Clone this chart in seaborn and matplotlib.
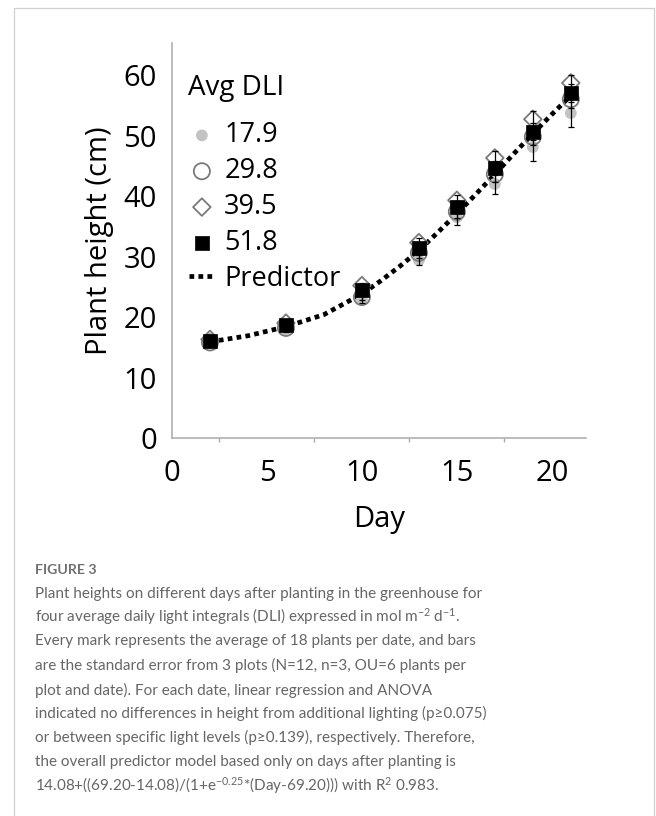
import numpy as np
import pandas as pd
import matplotlib
matplotlib.use("Agg")
import matplotlib.pyplot as plt
import seaborn as sns
from matplotlib.lines import Line2D
from matplotlib.ticker import MultipleLocator, FixedLocator

# ---------------- data ----------------
days = [2, 6, 10, 13, 15, 17, 19, 21]
dli_levels = ["17.9", "29.8", "39.5", "51.8"]
height_179 = [15.7, 18.0, 22.9, 29.4, 36.5, 42.0, 48.1, 53.7]
height_298 = [15.8, 18.2, 23.3, 30.6, 37.4, 43.6, 49.8, 56.0]
height_395 = [16.3, 19.0, 25.2, 32.3, 39.3, 46.3, 52.7, 58.7]
height_518 = [16.0, 18.6, 24.4, 31.4, 38.2, 44.6, 50.6, 57.0]
se_179 = [0.3, 0.4, 0.5, 0.8, 1.3, 1.7, 2.3, 2.3]
se_298 = [0.3, 0.4, 0.5, 0.8, 1.0, 1.2, 1.4, 1.5]
se_395 = [0.3, 0.4, 0.5, 0.7, 0.9, 1.1, 1.3, 1.3]
se_518 = [0.3, 0.4, 0.5, 0.8, 1.0, 1.2, 1.4, 1.5]
pred_days = [2, 4, 6, 8, 10, 11, 12, 13, 14, 15, 16, 17, 18, 19, 20, 21]
pred_height = [15.9, 16.9, 18.4, 20.4, 23.8, 26.0, 28.4, 31.0, 34.0, 37.1,
               40.3, 43.6, 47.0, 50.3, 53.5, 56.6]
x_ticks = [0, 5, 10, 15, 20]
y_ticks = [0, 10, 20, 30, 40, 50, 60]
x_label = "Day"
y_label = "Plant height (cm)"
legend_title = "Avg DLI"
pred_label = "Predictor"
fig_label = "FIGURE 3"
caption_lines = [
    "Plant heights on different days after planting in the greenhouse for",
    r"four average daily light integrals (DLI) expressed in mol m$\mathregular{^{-2}}$ d$\mathregular{^{-1}}$.",
    "Every mark represents the average of 18 plants per date, and bars",
    "are the standard error from 3 plots (N=12, n=3, OU=6 plants per",
    "plot and date). For each date, linear regression and ANOVA",
    "indicated no differences in height from additional lighting (p\u22650.075)",
    "or between specific light levels (p\u22650.139), respectively. Therefore,",
    "the overall predictor model based only on days after planting is",
    r"14.08+((69.20-14.08)/(1+e$\mathregular{^{-0.25}}$*(Day-69.20))) with R$\mathregular{^{2}}$ 0.983.",
]

series = [
    (dli_levels[0], height_179, se_179),
    (dli_levels[1], height_298, se_298),
    (dli_levels[2], height_395, se_395),
    (dli_levels[3], height_518, se_518),
]
frames = [pd.DataFrame({"Day": days, "Height": h, "SE": s, "DLI": lab}) for lab, h, s in series]
df = pd.concat(frames, ignore_index=True)
pred_df = pd.DataFrame({"Day": pred_days, "Height": pred_height})

# ---------------- styling ----------------
sns.set_theme(style="white")
plt.rcParams["font.family"] = ["Open Sans", "DejaVu Sans"]
plt.rcParams["axes.unicode_minus"] = True

W, H = 656, 816
fig = plt.figure(figsize=(W / 100, H / 100), dpi=100)
fig.patch.set_facecolor("white")

ax_l, ax_r, ax_t, ax_b = 172, 586, 43, 438
ax = fig.add_axes([ax_l / W, 1 - ax_b / H, (ax_r - ax_l) / W, (ax_b - ax_t) / H])
ax.set_facecolor("white")

styles = {
    "17.9": dict(marker="o", s=72, facecolor="#c3c3c3", edgecolor="none", linewidth=0),
    "29.8": dict(marker="o", s=135, facecolor="none", edgecolor="#7a7a7a", linewidth=1.3),
    "39.5": dict(marker="D", s=80, facecolor="none", edgecolor="#7a7a7a", linewidth=1.3),
    "51.8": dict(marker="s", s=105, facecolor="black", edgecolor="black", linewidth=0.5),
}

# predictor curve
sns.lineplot(data=pred_df, x="Day", y="Height", ax=ax, color="black",
             linewidth=3.4, linestyle=(0, (1.0, 0.9)), dash_capstyle="butt",
             label=pred_label, zorder=2, legend=False)

zo = 3
for lab, h, s in series:
    sub = df[df["DLI"] == lab]
    sns.scatterplot(data=sub, x="Day", y="Height", ax=ax, label=lab, zorder=zo,
                    legend=False, **styles[lab])
    zo += 1

for lab, h, s in series:
    sub = df[df["DLI"] == lab]
    ax.errorbar(sub["Day"], sub["Height"], yerr=sub["SE"], fmt="none",
                ecolor="black", elinewidth=0.9, capsize=2.2, capthick=0.9, zorder=8)

ax.set_xlim(0, 21.8)
ax.set_ylim(0, 65.3)
ax.xaxis.set_major_locator(FixedLocator(x_ticks))
ax.xaxis.set_minor_locator(MultipleLocator(2.5))
ax.yaxis.set_major_locator(FixedLocator(y_ticks))

spine_c = "#aaaaaa"
for side in ["top", "right"]:
    ax.spines[side].set_visible(False)
for side in ["left", "bottom"]:
    ax.spines[side].set_color(spine_c)
    ax.spines[side].set_linewidth(1.1)

ax.tick_params(axis="both", which="major", direction="out", length=5.8, width=1.0,
               color=spine_c, labelsize=21, labelcolor="black")
ax.tick_params(axis="x", which="major", pad=9.5)
ax.tick_params(axis="y", which="major", pad=5.0)
ax.tick_params(axis="x", which="minor", direction="out", length=2.9, width=1.0,
               color=spine_c, bottom=True)

ax.set_xlabel(x_label, fontsize=21, color="black")
ax.set_ylabel(y_label, fontsize=21, color="black")
ax.xaxis.set_label_coords(0.5, -(505 - ax_b) / (ax_b - ax_t))
ax.yaxis.set_label_coords(-(ax_l - 114) / (ax_r - ax_l), 0.5)

# legend title as text
ax.text((188 - ax_l) / (ax_r - ax_l), (ax_b - 95) / (ax_b - ax_t), legend_title,
        transform=ax.transAxes, fontsize=20, color="black", ha="left", va="baseline")

handles, labels = ax.get_legend_handles_labels()
order = [labels.index(l) for l in dli_levels + [pred_label]]
leg = ax.legend([handles[i] for i in order], [labels[i] for i in order],
                loc="upper left",
                bbox_to_anchor=((189 - ax_l) / (ax_r - ax_l), (ax_b - 121.5) / (ax_b - ax_t)),
                frameon=False, fontsize=19.5, borderpad=0, borderaxespad=0,
                handlelength=0.95, handletextpad=0.35, labelspacing=0.29,
                scatterpoints=1)
for t in leg.get_texts():
    t.set_color("black")

# caption
cap_font = ["Lato", "DejaVu Sans"]
fig.text(35 / W, 1 - 570 / H, fig_label, fontsize=10.2, fontweight="bold",
         color="#707070", family=cap_font, ha="left", va="center")
cap_y = [594, 617, 641, 665, 690, 713, 737, 762, 786]
for yy, line in zip(cap_y, caption_lines):
    fig.text(35 / W, 1 - yy / H, line, fontsize=10.95, color="#666666",
             family=cap_font, ha="left", va="center")

# outer frame
fc = "#d0d0d0"
fig.add_artist(Line2D([13.5 / W, 13.5 / W, 654 / W, 654 / W], [0, 1 - 8 / H, 1 - 8 / H, 0],
                      transform=fig.transFigure, color=fc, linewidth=0.9))

fig.savefig("out.png", dpi=100, facecolor="white")
